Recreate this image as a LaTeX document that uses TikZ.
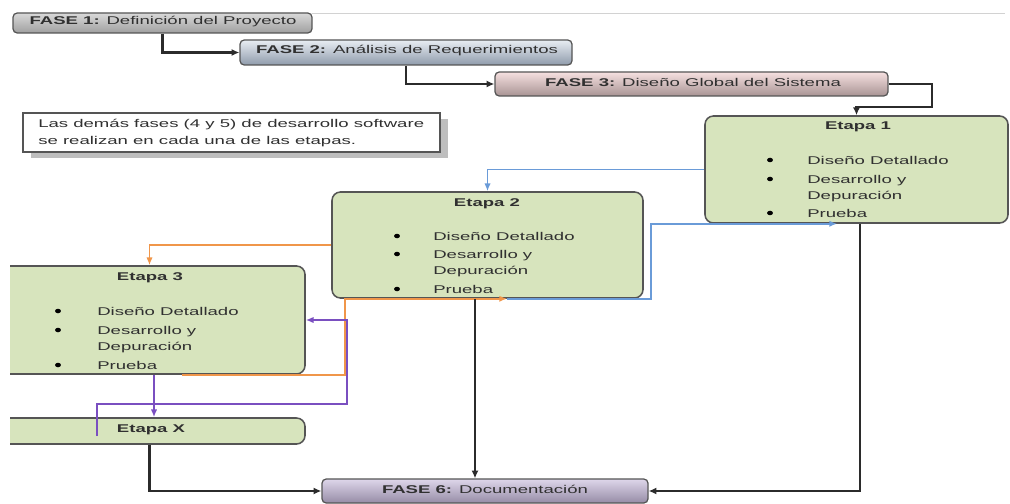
\documentclass[tikz,border=0pt]{standalone}
\usepackage{fontspec}
\setmainfont{Liberation Sans}[FakeStretch=1.65]
\usetikzlibrary{arrows.meta,fit}

\definecolor{ink}{HTML}{303030}
\definecolor{boxline}{HTML}{555555}
\definecolor{etapafill}{HTML}{D7E4BD}
\definecolor{linek}{HTML}{2B2B2B}
\definecolor{lblue}{HTML}{6A9BD8}
\definecolor{lorange}{HTML}{F0964A}
\definecolor{lpurple}{HTML}{7A4FC0}
\definecolor{shadowgray}{HTML}{BEBEBE}

\tikzset{
  fase/.style={draw=boxline, line width=0.9pt, rounded corners=3pt, inner sep=0pt},
  etapa/.style={draw=boxline, line width=1.1pt, fill=etapafill, rounded corners=6pt, inner sep=0pt},
  txt/.style={inner sep=0pt, text height=6pt, text depth=1.6pt, text=ink,
              font=\fontsize{8}{11}\selectfont},
  item/.style={txt, anchor=west},
  dot/.style={fill=black, inner sep=0pt, minimum size=3.2pt, circle, xscale=1.3},
  conn/.style={draw=linek, line width=1.5pt, -{Latex[length=5.5pt,width=5pt]}},
  bconn/.style={draw=lblue, line width=1.2pt, -{Latex[length=5.5pt,width=4.5pt]}},
  oconn/.style={draw=lorange, line width=1.2pt, -{Latex[length=5.5pt,width=4.5pt]}},
  pconn/.style={draw=lpurple, line width=1.2pt, -{Latex[length=5.5pt,width=4.5pt]}},
}

\begin{document}
\begin{tikzpicture}[x=0.025cm, y=-0.025cm]
\useasboundingbox (0,0) rectangle (1010,504);

% frame line along the top
\draw[gray!35, line width=0.6pt] (312,13) -- (1005,13);

% phase boxes
\node[fase, top color=gray!30, bottom color=gray!75, fit={(13,13) (312,33)}] (f1) {};
\node[txt] (f1t) at (163,21) {\textbf{FASE 1:} Definición del Proyecto};

\node[fase, top color={rgb,255:red,232;green,237;blue,243}, bottom color={rgb,255:red,143;green,155;blue,171},
      fit={(240,40) (572,65)}] (f2) {};
\node[txt] (f2t) at (407,50) {\textbf{FASE 2:} Análisis de Requerimientos};

\node[fase, top color={rgb,255:red,246;green,224;blue,224}, bottom color={rgb,255:red,168;green,148;blue,148},
      fit={(495,72) (888,96)}] (f3) {};
\node[txt] (f3t) at (693,83) {\textbf{FASE 3:} Diseño Global del Sistema};

\node[fase, top color={rgb,255:red,222;green,214;blue,234}, bottom color={rgb,255:red,150;green,140;blue,166},
      fit={(322,479) (648,503)}] (f6) {};
\node[txt] (f6t) at (485,490) {\textbf{FASE 6:} Documentación};

% note with its shadow
\node[fill=shadowgray, inner sep=0pt, fit={(31,119) (448,158)}] (noteshadow) {};
\node[draw=boxline, line width=0.8pt, fill=white, inner sep=0pt, fit={(23,113) (440,152)}] (note) {};
\node[item] (note1) at (38,124) {Las demás fases (4 y 5) de desarrollo software};
\node[item] (note2) at (38,141) {se realizan en cada una de las etapas.};

% Etapa 1
\node[etapa, fit={(705,116) (1008,223)}] (e1) {};
\node[txt] (e1t) at (858,126) {\textbf{Etapa 1}};
\node[dot] (e1b1) at (770,160) {};
\node[item] (e1i1) at (807,161) {Diseño Detallado};
\node[dot] (e1b2) at (770,179) {};
\node[item] (e1i2) at (807,180) {Desarrollo y};
\node[item] (e1i3) at (807,196) {Depuración};
\node[dot] (e1b3) at (770,213) {};
\node[item] (e1i4) at (807,214) {Prueba};

% Etapa 2
\node[etapa, fit={(332,192) (643,298)}] (e2) {};
\node[txt] (e2t) at (487,203) {\textbf{Etapa 2}};
\node[dot] (e2b1) at (397,236) {};
\node[item] (e2i1) at (433,237) {Diseño Detallado};
\node[dot] (e2b2) at (397,254) {};
\node[item] (e2i2) at (433,255) {Desarrollo y};
\node[item] (e2i3) at (433,271) {Depuración};
\node[dot] (e2b3) at (397,289) {};
\node[item] (e2i4) at (433,290) {Prueba};

% Etapa 3 and Etapa X run off the left edge
\begin{scope}
  \clip (10,0) rectangle (1010,504);
  \node[etapa, fit={(-6,266) (305,374)}] (e3) {};
  \node[etapa, fit={(-6,418) (305,444)}] (ex) {};
\end{scope}
\node[txt] (e3t) at (150,277) {\textbf{Etapa 3}};
\node[dot] (e3b1) at (58,311) {};
\node[item] (e3i1) at (97,312) {Diseño Detallado};
\node[dot] (e3b2) at (58,330) {};
\node[item] (e3i2) at (97,331) {Desarrollo y};
\node[item] (e3i3) at (97,347) {Depuración};
\node[dot] (e3b3) at (58,365) {};
\node[item] (e3i4) at (97,366) {Prueba};
\node[txt] (ext) at (151,429) {\textbf{Etapa X}};

% phase sequence
\draw[conn] (f1.south) |- (f2.west);
\draw[conn] (f2.south) |- (f3.west);
\draw[conn] (f3.east) -| (932,107) -| (e1.north);

% flow between stages
\draw[bconn] (e1.west) -| (e2.north);
\draw[oconn] (e2.west) -| (e3.north);
\draw[oconn] (e3.south -| 182,0) -| (e2.south -| 345,0) -- (e2.south -| 507,0);
\draw[bconn] (e2.south -| 507,0) -| (e1.south -| 651,0) -- (e1.south -| 837,0);
\coordinate (xstart) at (97,436);
\draw[pconn] (xstart) |- (347,404) |- (e3.east);
\draw[pconn] (e3.south -| 154,0) -- (ex.north -| 154,0);

% documentation
\draw[conn] (e2.south -| 475,0) -- (f6.north -| 475,0);
\draw[conn] (ex.south) |- (f6.west);
\draw[conn] (e1.south -| 860,0) |- (f6.east);
\end{tikzpicture}
\end{document}
